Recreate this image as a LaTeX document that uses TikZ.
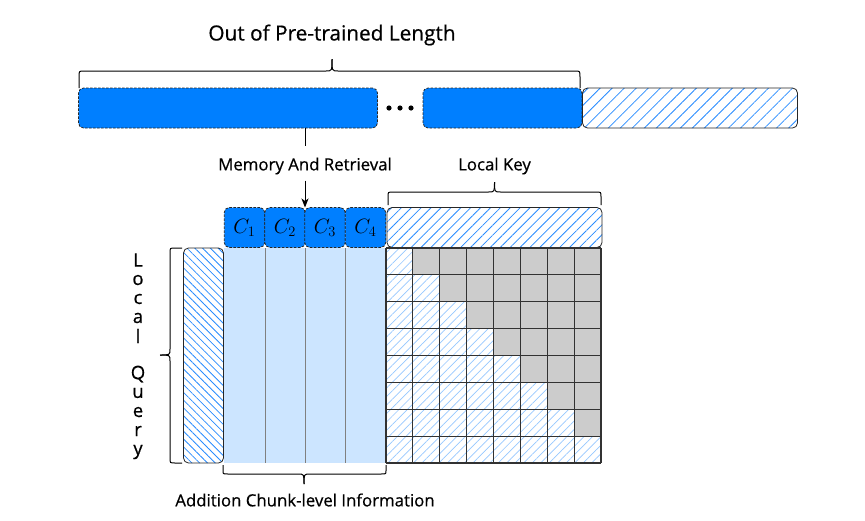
\documentclass[tikz,border=0pt]{standalone}
\usepackage{fontspec}
\setmainfont{Open Sans}[FakeBold=0.6]
\usetikzlibrary{patterns.meta,arrows.meta}
\definecolor{blueF}{RGB}{0,127,255}
\definecolor{lightB}{RGB}{204,229,255}
\definecolor{hatchC}{RGB}{40,140,255}
\definecolor{hatchL}{RGB}{150,200,255}
\definecolor{cellG}{RGB}{204,204,204}
\definecolor{gridC}{RGB}{50,50,50}
\newcommand\myhbrace[6]{% x1 x2 xm yend ybar ytip
  \draw[bracestyle] (#1,#4) -- (#1,{#5+0.35*(#4-#5)}) .. controls (#1,#5) .. ({#1+5},#5) -- ({#3-6},#5)
     .. controls (#3,#5) .. (#3,#6);
  \draw[bracestyle] (#3,#6) .. controls (#3,#5) .. ({#3+6},#5) -- ({#2-5},#5)
     .. controls (#2,#5) .. (#2,{#5+0.35*(#4-#5)}) -- (#2,#4);}
\begin{document}
\begin{tikzpicture}[x=1pt,y=-1pt,
  bracestyle/.style={line width=1pt, black},
  bluebox/.style={draw=black!85, line width=0.8pt, dash pattern=on 2.5pt off 1.5pt,
     fill=blueF, rounded corners=5pt, inner sep=0pt, outer sep=0pt},
  hatchNE/.style={draw=black!85, line width=0.8pt, rounded corners=5pt, inner sep=0pt, outer sep=0pt,
     pattern={Lines[angle=45,distance=7pt,line width=0.8pt]}, pattern color=hatchC},
  hatchNW/.style={draw=black!85, line width=0.8pt, rounded corners=5pt, inner sep=0pt, outer sep=0pt,
     pattern={Lines[angle=-45,distance=5.5pt,line width=0.8pt]}, pattern color=hatchC},
  cellH/.style={pattern={Lines[angle=45,distance=6pt,line width=0.7pt]}, pattern color=hatchL},
  lbl/.style={font=\fontsize{16.8}{20}\selectfont, inner sep=1pt},
  ql/.style={font=\fontsize{18.5}{22}\selectfont, inner sep=0pt},
  cl/.style={font=\fontsize{22}{26}\selectfont},
]
\useasboundingbox (0,0) rectangle (865,520);
\fill[white] (0,0) rectangle (865,520);

% title
\node[font=\fontsize{20.8}{24}\selectfont] (title) at (332,35) {Out of Pre-trained Length};
\myhbrace{79}{580}{332}{88}{71}{59}

% top row
\node[bluebox, minimum width=299pt, minimum height=40pt] (b1) at (228,108) {};
\node[bluebox, minimum width=159pt, minimum height=40pt] (b2) at (502.5,108) {};
\node[hatchNE, minimum width=215pt, minimum height=40pt,
      pattern={Lines[angle=45,distance=8.5pt,line width=0.8pt]}] (b3) at (690,108) {};
\foreach \i/\xx in {1/389,2/400,3/411}
  \fill (\xx,108) circle (2.6pt);

% memory and retrieval
\node[lbl] (mr) at (305,166) {Memory And Retrieval};
\draw[line width=1pt] (b1.south -| mr) -- ++(0,18);

% chunk boxes
\foreach \i/\xc in {1/244.5,2/285,3/325,4/365.5}
  \node[bluebox, minimum width=40.5pt, minimum height=40pt] (c\i) at (\xc,227.5) {};
\foreach \i in {1,...,4}
  \node[cl] at (c\i) {$C_{\i}$};
\draw[line width=1pt, -{Stealth[length=9pt,width=7pt,inset=2.5pt]}] ([yshift=-5pt]mr.south) -- (mr.south |- c3.north);

% local key
\node[hatchNE, minimum width=215pt, minimum height=40pt] (lk) at (494.5,227.5) {};
\node[lbl] (lkt) at (494.5,166) {Local Key};
\myhbrace{388}{601}{494.5}{205}{192}{182}

% light blue chunk columns
\node[fill=lightB, minimum width=162pt, minimum height=215pt, inner sep=0pt, outer sep=0pt] (cols) at (305,355.5) {};
\foreach \xx in {265,305,345}
  \draw[gray, line width=0.7pt] (\xx,248) -- (\xx,463);

% attention grid
\foreach \r in {0,...,7}{
  \foreach \c in {0,...,7}{
    \ifnum\c>\r
      \fill[cellG] ({386+\c*26.875},{248+\r*26.875}) rectangle ++(26.875,26.875);
    \else
      \path[cellH] ({386+\c*26.875},{248+\r*26.875}) rectangle ++(26.875,26.875);
    \fi
  }
}
\foreach \k in {0,...,8}{
  \draw[gridC, line width=1.1pt] ({386+\k*26.875},248) -- ({386+\k*26.875},463);
  \draw[gridC, line width=1.1pt] (386,{248+\k*26.875}) -- (601,{248+\k*26.875});
}
\node[minimum width=215pt, minimum height=215pt, inner sep=0pt, outer sep=0pt] (grid) at (493.5,355.5) {};

% local query
\node[hatchNW, minimum width=40pt, minimum height=215pt] (lq) at (203.5,355.5) {};
% vertical brace
\draw[bracestyle] (182,248) -- (175,248) .. controls (170,248) .. (170,253) -- (170,349)
   .. controls (170,355) .. (160,355);
\draw[bracestyle] (160,355) .. controls (170,355) .. (170,361) -- (170,458)
   .. controls (170,463) .. (175,463) -- (182,463);
\foreach \i/\ch/\yy in {1/L/260,2/o/280,3/c/299,4/a/318,5/l/336,6/Q/374,7/u/393,8/e/412,9/r/431,10/y/452}
  \node[ql] (q\i) at (138,\yy) {\ch};

% bottom brace
\myhbrace{223}{386}{304}{465}{474}{484}
\node[lbl] (acl) at (305,500) {Addition Chunk-level Information};
\end{tikzpicture}
\end{document}
